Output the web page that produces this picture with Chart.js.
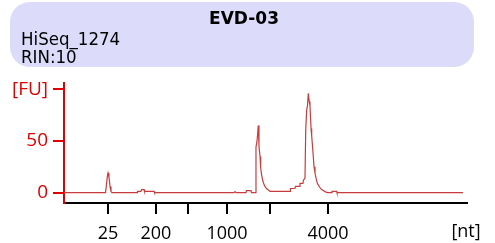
<!DOCTYPE html>
<html>
<head>
<meta charset="utf-8">
<script src="https://cdn.jsdelivr.net/npm/chart.js@4.4.1/dist/chart.umd.min.js"></script>
<style>
  html, body { margin:0; padding:0; background:#fff; }
  #wrap { width:495px; height:243px; }
</style>
</head>
<body>
<div id="wrap"><canvas id="epg" width="495" height="243"></canvas></div>
<script>
// ── DATA ──
const sampleName = 'EVD-03';
const chipName   = 'HiSeq_1274';
const rinLabel   = 'RIN:10';

// migration time (s) and fluorescence (FU)
const traceTime = [19.00, 24.15, 24.27, 24.40, 24.46, 24.58, 24.71, 24.83, 24.96,
  28.06, 28.12, 28.55, 28.62, 28.93, 28.99, 30.17, 30.23,
  40.09, 40.22, 40.34, 41.58, 41.64, 42.20, 42.26,
  42.70, 42.82, 42.95, 43.11, 43.19, 43.32, 43.40, 43.50, 43.65, 43.81, 43.94, 44.12, 44.35, 44.56,
  47.04, 47.10, 47.66, 47.72, 48.22, 48.28, 48.65, 48.71, 48.90,
  48.99, 49.11, 49.21, 49.31, 49.43, 49.52, 49.65, 49.73, 49.93, 50.02, 50.14, 50.27,
  50.43, 50.58, 50.76, 50.95, 51.17, 51.38, 51.67, 52.21, 52.25, 52.83, 52.87, 68.50];
const traceFU = [0, 0, 8, 17, 19, 15, 6, 1, 0,
  0, 1.3, 1.3, 3, 3, 1.3, 1.3, 0,
  0, 1, 0, 0, 2, 2, 0,
  0, 44, 50, 65, 45, 35, 24, 18, 12, 8, 6, 4, 2.5, 1.3,
  1.3, 4, 4, 6, 6, 9, 9, 12, 14,
  60, 80, 84, 96, 88, 84, 62, 55, 35, 25, 19, 14,
  9, 7, 5, 3, 2, 1, 0, 0, 1.3, 1.3, 0, 0];

// ladder positions on the time axis and their size labels
const ladderTime  = [24.46, 30.41, 34.38, 39.22, 44.56, 51.75];
const ladderLabel = ['25', '200', '', '1000', '', '4000'];

const fuTicks = [0, 50, 100];

// ── PLUGIN: header box + unit label ──
const headerPlugin = {
  id: 'header',
  afterDraw(chart) {
    const c = chart.ctx;
    c.save();
    c.fillStyle = '#dcdcfa';
    c.beginPath();
    c.roundRect(10, 2, 464, 65, 20);
    c.fill();

    c.fillStyle = '#000';
    c.textBaseline = 'alphabetic';
    c.textAlign = 'center';
    c.font = 'bold 17px "DejaVu Sans"';
    c.fillText(sampleName, 244, 24);

    c.textAlign = 'left';
    c.font = '18.5px "DejaVu Sans Condensed", "DejaVu Sans"';
    c.fillText(chipName, 21, 45);
    c.fillText(rinLabel, 21, 63);

    c.font = '18px "Open Sans"';
    c.textAlign = 'center';
    c.textBaseline = 'middle';
    c.fillText('[nt]', 466, 232);
    c.restore();
  }
};

// ── CHART ──
const ctx = document.getElementById('epg').getContext('2d');
new Chart(ctx, {
  type: 'line',
  data: {
    datasets: [{
      data: traceTime.map((t, i) => ({ x: t, y: traceFU[i] })),
      borderColor: '#c83c3c',
      borderWidth: 1.2,
      pointRadius: 0,
      tension: 0,
      fill: false,
    }]
  },
  options: {
    responsive: false,
    animation: false,
    layout: { padding: { top: 83, right: 28, left: 0, bottom: 0 } },
    plugins: { legend: { display: false }, tooltip: { enabled: false } },
    scales: {
      x: {
        type: 'linear',
        min: 19,
        max: 69,
        afterFit(s) { s.height = 40; },
        afterBuildTicks(s) { s.ticks = ladderTime.map(v => ({ value: v })); },
        grid: { drawOnChartArea: false, drawTicks: true, tickLength: 11, color: '#000', lineWidth: 2 },
        border: { display: true, color: '#000', width: 2 },
        ticks: {
          autoSkip: false,
          maxRotation: 0,
          padding: 9,
          color: '#000',
          font: { family: 'Open Sans', size: 18 },
          callback: (v, i) => ladderLabel[i],
        }
      },
      y: {
        min: -10,
        max: 106,
        afterFit(s) { s.width = 64; },
        afterBuildTicks(s) { s.ticks = fuTicks.map(v => ({ value: v })); },
        grid: { drawOnChartArea: false, drawTicks: true, tickLength: 11, color: '#e00000', lineWidth: 2 },
        border: { display: true, color: '#e00000', width: 2 },
        ticks: {
          padding: 5,
          color: '#e00000',
          font: { family: 'Open Sans', size: 19 },
          callback: v => (v === 100 ? '[FU]' : v),
        }
      }
    }
  },
  plugins: [headerPlugin]
});
</script>
</body>
</html>
